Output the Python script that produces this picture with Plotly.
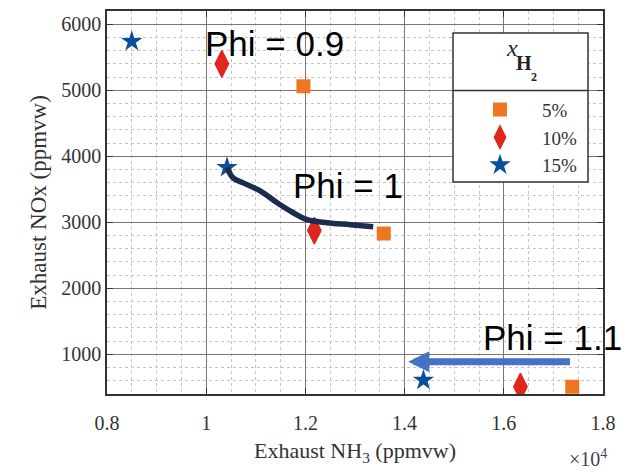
import plotly.graph_objects as go

# ---- data (NH3 in ppmvw, NOx in ppmvw) ----
series_names = ["5%", "10%", "15%"]
nh3_5 = [11960, 13580, 17380]
nox_5 = [5060, 2830, 510]
nh3_10 = [10315, 12180, 16335]
nox_10 = [5400, 2875, 510]
nh3_15 = [8500, 10420, 14380]
nox_15 = [5740, 3830, 610]

# hand-drawn trend curve for Phi = 1
curve_nh3 = [10416, 10543, 10745, 11088, 11431, 11754, 12036, 12440, 12904, 13368]
curve_nox = [3828, 3673, 3597, 3477, 3296, 3145, 3039, 2994, 2964, 2934]

# Phi = 1.1 arrow (tail -> head)
arrow_tail = (17364, 890)
arrow_head = (14075, 890)

x_tickvals = [8000, 10000, 12000, 14000, 16000, 18000]
x_ticktext = ["0.8", "1", "1.2", "1.4", "1.6", "1.8"]
y_tickvals = [1000, 2000, 3000, 4000, 5000, 6000]
y_ticktext = ["1000", "2000", "3000", "4000", "5000", "6000"]

phi_labels = ["Phi = 0.9", "Phi = 1", "Phi = 1.1"]
phi_x = [11370, 12854, 16991]
phi_y = [5701, 3552, 1252]

SERIF = "Liberation Serif, Times New Roman, serif"
SANS = "Liberation Sans, Arial, sans-serif"

fig = go.Figure()
fig.add_trace(go.Scatter(x=nh3_5, y=nox_5, mode="markers", name=series_names[0],
                         marker=dict(symbol="square", size=14, color="#EE7623")))
fig.add_trace(go.Scatter(x=nh3_10, y=nox_10, mode="markers", name=series_names[1],
                         marker=dict(symbol="diamond-tall", size=19, color="#E0271C",
                                     line=dict(width=1.5, color="#E0271C"))))
fig.add_trace(go.Scatter(x=nh3_15, y=nox_15, mode="markers", name=series_names[2],
                         marker=dict(symbol="star", size=16, color="#0B4F9C")))
fig.add_trace(go.Scatter(x=curve_nh3, y=curve_nox, mode="lines", showlegend=False,
                         line=dict(color="#1C2B50", width=5.5, shape="spline")))

# legend box (paper coords)
L = 107; R = 603; T = 9; B = 394
W = R - L; H = B - T
def px(xp): return (xp - L) / W
def py(yp): return (B - yp) / H

shapes = [
    dict(type="rect", xref="paper", yref="paper", x0=px(453), x1=px(588), y0=py(181), y1=py(31),
         fillcolor="white", line=dict(color="#333", width=1.5), layer="above"),
    dict(type="line", xref="paper", yref="paper", x0=px(453), x1=px(588), y0=py(89), y1=py(89),
         line=dict(color="#333", width=1.5), layer="above"),
]

annotations = []
for t, xv, yv in zip(phi_labels, phi_x, phi_y):
    annotations.append(dict(x=xv, y=yv, xref="x", yref="y", text=t, showarrow=False,
                            font=dict(family=SANS, size=35, color="black"),
                            xanchor="center", yanchor="middle"))
annotations.append(dict(x=arrow_head[0], y=arrow_head[1], ax=arrow_tail[0], ay=arrow_tail[1],
                        xref="x", yref="y", axref="x", ayref="y", text="", showarrow=True,
                        arrowhead=2, arrowsize=0.6, arrowwidth=7, arrowcolor="#4472C4", standoff=0))
# legend title x_H2
annotations += [
    dict(x=px(512), y=py(46), xref="paper", yref="paper", text="<i>x</i>", showarrow=False,
         font=dict(family=SERIF, size=24, color="#222"), xanchor="center", yanchor="middle"),
    dict(x=px(524), y=py(61), xref="paper", yref="paper", text="<b>H</b>", showarrow=False,
         font=dict(family=SERIF, size=20, color="#222"), xanchor="center", yanchor="middle"),
    dict(x=px(534), y=py(75), xref="paper", yref="paper", text="<b>2</b>", showarrow=False,
         font=dict(family=SERIF, size=12, color="#222"), xanchor="center", yanchor="middle"),
    dict(x=px(588), y=py(458), xref="paper", yref="paper", text="×10<sup>4</sup>", showarrow=False,
         font=dict(family=SERIF, size=20, color="#444"), xanchor="center", yanchor="middle"),
]

axis_common = dict(showline=True, mirror="ticks", linecolor="#333", linewidth=1.5,
                   ticks="inside", ticklen=6, tickcolor="#333",
                   showgrid=True, gridcolor="#777", gridwidth=1, zeroline=False,
                   tickfont=dict(family=SERIF, size=20, color="#333"))

fig.update_layout(
    width=627, height=472,
    margin=dict(l=L, r=627 - R, t=T, b=472 - B),
    paper_bgcolor="white", plot_bgcolor="white",
    shapes=shapes, annotations=annotations,
    showlegend=True,
    legend=dict(x=px(458), y=py(89), xanchor="left", yanchor="top",
                bgcolor="rgba(0,0,0,0)", borderwidth=0,
                font=dict(family=SERIF, size=19, color="#333"),
                itemwidth=74, tracegroupgap=0),
    xaxis=dict(range=[8000, 18000], tickvals=x_tickvals, ticktext=x_ticktext,
               ticklabelstandoff=10,
               title=dict(text="Exhaust NH<sub>3</sub> (ppmvw)", standoff=10,
                          font=dict(family=SERIF, size=22, color="#333")),
               minor=dict(dtick=500, tick0=8000, showgrid=True, gridcolor="#c4c4c4",
                          griddash="dot", gridwidth=1),
               **axis_common),
    yaxis=dict(range=[400, 6200], tickvals=y_tickvals, ticktext=y_ticktext,
               title=dict(text="Exhaust NOx (ppmvw)", standoff=8,
                          font=dict(family=SERIF, size=23, color="#333")),
               minor=dict(dtick=200, tick0=0, showgrid=True, gridcolor="#c4c4c4",
                          griddash="dot", gridwidth=1),
               **axis_common),
)

fig.write_html("out.html")
